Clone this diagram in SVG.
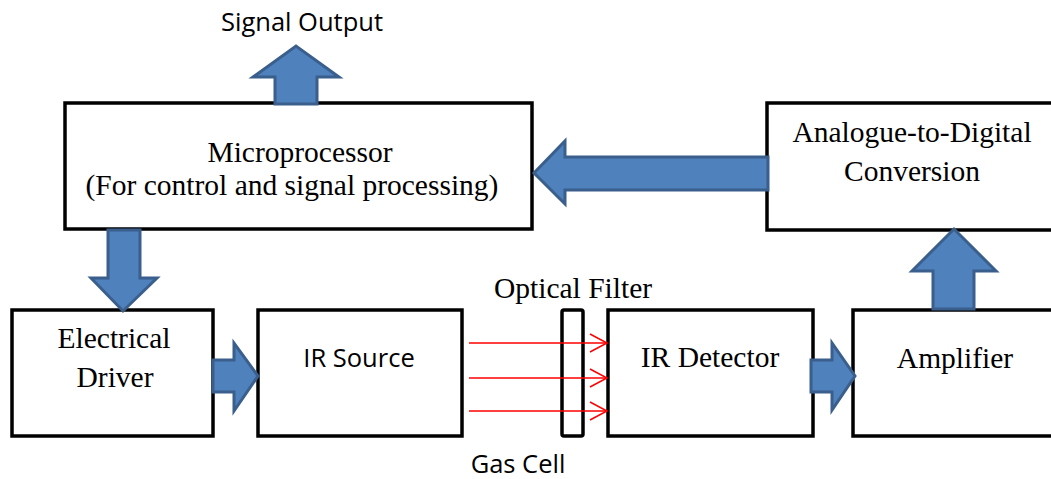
<svg xmlns="http://www.w3.org/2000/svg" width="1051" height="479" viewBox="0 0 1051 479">
<defs>
<style>
.box{fill:#fff;stroke:#000;stroke-width:3.5}
.blk{fill:#4f81bd;stroke:#3a5f8c;stroke-width:3;stroke-linejoin:miter}
.ser{font-family:"Liberation Serif","Times New Roman",serif;font-size:29.5px;fill:#000;text-anchor:middle}
.san{font-family:"Open Sans","Liberation Sans",sans-serif;font-size:25.5px;fill:#000;text-anchor:middle}
.ray{stroke:#ff0000;stroke-width:1.5;fill:none}
</style>
<marker id="chev" markerWidth="20" markerHeight="20" refX="18" refY="10" orient="auto" markerUnits="userSpaceOnUse">
<path d="M1,1 L18,10 L1,19" fill="none" stroke="#ff0000" stroke-width="1.5"/>
</marker>
</defs>
<rect width="1051" height="479" fill="#fff"/>
<g id="micro"><rect class="box" x="65" y="103" width="467" height="126"/>
<text class="ser" x="300" y="162">Microprocessor</text>
<text class="ser" x="292" y="195">(For control and signal processing)</text></g>
<g id="adc"><rect class="box" x="767" y="103" width="300" height="127"/>
<text class="ser" x="912" y="142">Analogue-to-Digital</text>
<text class="ser" x="912" y="181">Conversion</text></g>
<g id="driver"><rect class="box" x="12" y="310" width="201" height="126"/>
<text class="ser" x="114" y="348">Electrical</text>
<text class="ser" x="115" y="387">Driver</text></g>
<g id="irsource"><rect class="box" x="258" y="310" width="204" height="126"/>
<text class="san" x="359" y="367">IR Source</text></g>
<g id="filter"><rect class="box" x="562" y="310" width="21" height="126" rx="2"/>
<text class="ser" x="573" y="298">Optical Filter</text></g>
<g id="gascell"><text class="san" x="518" y="473">Gas Cell</text></g>
<g id="detector"><rect class="box" x="608" y="310" width="205" height="126"/>
<text class="ser" x="710" y="367">IR Detector</text></g>
<g id="amp"><rect class="box" x="853" y="310" width="214" height="126"/>
<text class="ser" x="955" y="368">Amplifier</text></g>
<g id="signal"><text class="san" x="302" y="31">Signal Output</text></g>
<g id="connectors">
<polygon class="blk" points="275,104 275,77 253,77 296,46 339,77 317,77 317,104"/>
<polygon class="blk" points="768,157 565,157 565,141 534,173 565,204 565,190 768,190"/>
<polygon class="blk" points="108,230 108,278 91,278 123,311 157,278 140,278 140,230"/>
<polygon class="blk" points="213,360 234,360 234,343 258,376 234,411 234,392 213,392"/>
<polygon class="blk" points="811,360 832,360 832,343 855,376 832,410 832,392 811,392"/>
<polygon class="blk" points="933,309 933,271 912,271 954,229 996,271 974,271 974,309"/>
<line class="ray" x1="469" y1="343" x2="607" y2="343" marker-end="url(#chev)"/>
<line class="ray" x1="469" y1="378" x2="607" y2="378" marker-end="url(#chev)"/>
<line class="ray" x1="469" y1="411" x2="607" y2="411" marker-end="url(#chev)"/>
</g>
</svg>
